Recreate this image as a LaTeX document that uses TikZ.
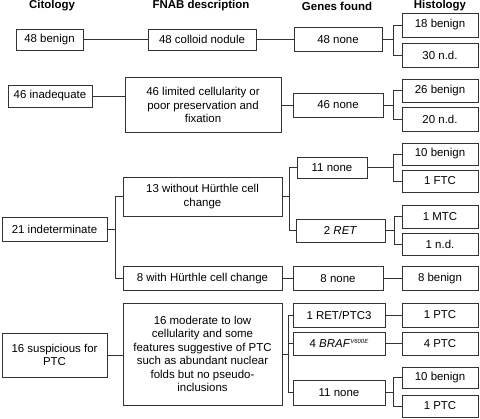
\documentclass[tikz,border=0pt]{standalone}
\usepackage{fontspec}
\setmainfont{Liberation Sans}

\begin{document}
\begin{tikzpicture}[x=1bp, y=-1bp, font=\fontsize{11.5}{13.6}\selectfont,
    box/.style={draw=black!80, line width=0.6bp, inner sep=0pt, align=center},
    head/.style={font=\fontsize{11.5}{13.6}\selectfont\bfseries},
    link/.style={draw=black!80, line width=0.6bp}]
            \useasboundingbox (0,0) rectangle (480,418);

            % Column heads
            \node[head] (hcit) at (52,6) {Citology};
            \node[head] (hfnab) at (201,6) {FNAB description};
            \node[head] (hgen) at (337,6) {Genes found};
            \node[head] (hhis) at (440,6) {Histology};

            % Row 1: benign
            \node[box, minimum width=67bp, minimum height=21bp] (cit1) at (49.5,39.5) {48 benign};
            \node[box, minimum width=108bp, minimum height=21bp] (fnab1) at (202,39.5) {48 colloid nodule};
            \node[box, minimum width=88bp, minimum height=24bp] (gen1) at (338,39.5) {48 none};
            \node[box, minimum width=76bp, minimum height=24bp] (his1a) at (440,25) {18 benign};
            \node[box, minimum width=76bp, minimum height=24bp] (his1b) at (440,55) {30 n.d.};
            \coordinate (j1) at (393,39.5);

            % Row 2: inadequate
            \node[box, minimum width=84bp, minimum height=22bp] (cit2) at (50,96) {46 inadequate};
            \node[box, minimum width=156bp, minimum height=55bp] (fnab2) at (203,105) {46 limited cellularity or\\poor preservation and\\fixation};
            \node[box, minimum width=90bp, minimum height=24bp] (gen2) at (338,105) {46 none};
            \node[box, minimum width=76bp, minimum height=23bp] (his2a) at (440,90.5) {26 benign};
            \node[box, minimum width=76bp, minimum height=24bp] (his2b) at (440,119) {20 n.d.};
            \coordinate (j2) at (393,105);

            % Row 3: indeterminate
            \node[box, minimum width=105bp, minimum height=24bp] (cit3) at (54.5,229) {21 indeterminate};
            \node[box, minimum width=159bp, minimum height=39bp] (fnab3a) at (202.5,196.5) {13 without H\"urthle cell\\change};
            \node[box, minimum width=159bp, minimum height=24bp] (fnab3b) at (202.5,278.5) {8 with H\"urthle cell change};
            \node[box, minimum width=70bp, minimum height=21bp] (gen3a) at (332,167.5) {11 none};
            \node[box, minimum width=89bp, minimum height=23bp] (gen3b) at (340.5,230.5) {2 \textit{RET}};
            \node[box, minimum width=90bp, minimum height=24bp] (gen3c) at (338,278.5) {8 none};
            \node[box, minimum width=76bp, minimum height=22bp] (his3a) at (440,154) {10 benign};
            \node[box, minimum width=76bp, minimum height=22bp] (his3b) at (440,181) {1 FTC};
            \node[box, minimum width=76bp, minimum height=23bp] (his3c) at (440,216.5) {1 MTC};
            \node[box, minimum width=76bp, minimum height=22bp] (his3d) at (440,244) {1 n.d.};
            \node[box, minimum width=76bp, minimum height=24bp] (his3e) at (440,278.5) {8 benign};
            \coordinate (j3) at (115,229);
            \coordinate (j3g) at (289,196.5);
            \coordinate (j3h) at (393,167.5);
            \coordinate (j3i) at (394,230.5);

            % Row 4: suspicious
            \node[box, minimum width=105bp, minimum height=44bp] (cit4) at (54.5,355) {16 suspicious for\\PTC};
            \node[box, minimum width=159bp, minimum height=102bp] (fnab4) at (202.5,354) {16 moderate to low\\cellularity and some\\features suggestive of PTC\\such as abundant nuclear\\folds but no pseudo-\\inclusions};
            \node[box, minimum width=92bp, minimum height=24bp] (gen4a) at (339,315) {1 RET/PTC3};
            \node[box, minimum width=92bp, minimum height=23bp] (gen4b) at (339,343.5) {4 \textit{BRAF}\raisebox{3.5bp}{\fontsize{6}{7}\selectfont\textit{V600E}}};
            \node[box, minimum width=92bp, minimum height=25bp] (gen4c) at (339,392.5) {11 none};
            \node[box, minimum width=76bp, minimum height=24bp] (his4a) at (440,315) {1 PTC};
            \node[box, minimum width=76bp, minimum height=23bp] (his4b) at (440,343.5) {4 PTC};
            \node[box, minimum width=76bp, minimum height=21bp] (his4c) at (440,377.5) {10 benign};
            \node[box, minimum width=76bp, minimum height=22bp] (his4d) at (440,406) {1 PTC};
            \coordinate (j4g) at (288,354);
            \coordinate (j4h) at (393,392.5);

            % Lines
            \draw[link] (cit1) -- (fnab1);
            \draw[link] (fnab1) -- (gen1);
            \draw[link] (gen1) -- (j1);
            \draw[link] (his1a.west) -| (j1);
            \draw[link] (his1b.west) -| (j1);

            \draw[link] (cit2.east) -- (cit2.east -| fnab2.west);
            \draw[link] (fnab2) -- (gen2);
            \draw[link] (gen2) -- (j2);
            \draw[link] (his2a.west) -| (j2);
            \draw[link] (his2b.west) -| (j2);

            \draw[link] (cit3) -- (j3);
            \draw[link] (fnab3a.west) -| (j3);
            \draw[link] (fnab3b.west) -| (j3);
            \draw[link] (fnab3a) -- (j3g);
            \draw[link] (gen3a.west) -| (j3g);
            \draw[link] (gen3b.west) -| (j3g);
            \draw[link] (gen3a) -- (j3h);
            \draw[link] (his3a.west) -| (j3h);
            \draw[link] (his3b.west) -| (j3h);
            \draw[link] (gen3b) -- (j3i);
            \draw[link] (his3c.west) -| (j3i);
            \draw[link] (his3d.west) -| (j3i);
            \draw[link] (fnab3b) -- (gen3c);
            \draw[link] (gen3c) -- (his3e);

            \draw[link] (cit4.east) -- (cit4.east -| fnab4.west);
            \draw[link] (fnab4) -- (j4g);
            \draw[link] (gen4a.west) -| (j4g);
            \draw[link] (gen4b.west) -| (j4g);
            \draw[link] (gen4c.west) -| (j4g);
            \draw[link] (gen4a) -- (his4a);
            \draw[link] (gen4b) -- (his4b);
            \draw[link] (gen4c) -- (j4h);
            \draw[link] (his4c.west) -| (j4h);
            \draw[link] (his4d.west) -| (j4h);
        \end{tikzpicture}
\end{document}
